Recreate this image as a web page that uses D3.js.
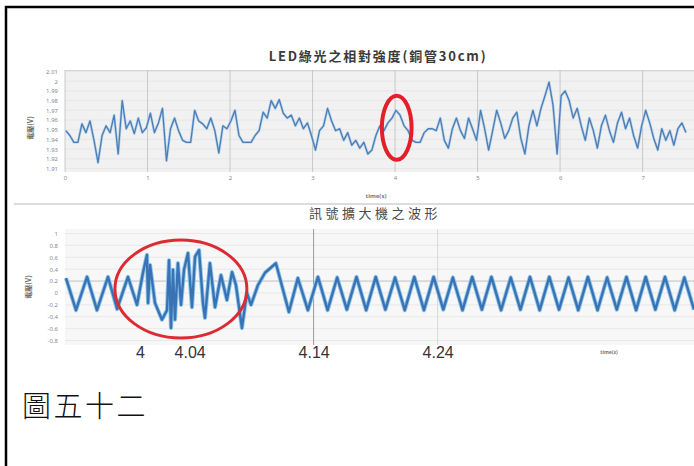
<!DOCTYPE html>
<html>
<head>
<meta charset="utf-8">
<script src="https://cdn.jsdelivr.net/npm/d3@7"></script>
<style>
  html, body { margin: 0; padding: 0; background: #fff; }
  svg { display: block; }
</style>
</head>
<body>
<div id="chart"></div>
<script>
// ---------------- DATA ----------------
const topTitle = "LED綠光之相對強度(銅管30cm)";
const bottomTitle = "訊號擴大機之波形";
const caption = "圖五十二";
const yAxisTitle = "電壓(V)";
const xAxisTitle = "time(s)";

// top chart: relative intensity, sampled uniformly
const topSampleStart = 0.01;
const topSampleStep = 0.0488;
const topValues = [
  1.949, 1.944, 1.937, 1.937, 1.956, 1.947, 1.959, 1.939, 1.916, 1.944,
  1.954, 1.947, 1.965, 1.925, 1.980, 1.951, 1.959, 1.946, 1.962, 1.947,
  1.952, 1.967, 1.947, 1.957, 1.972, 1.918, 1.951, 1.962, 1.949, 1.939,
  1.937, 1.937, 1.970, 1.959, 1.956, 1.951, 1.962, 1.949, 1.926, 1.954,
  1.951, 1.959, 1.970, 1.944, 1.937, 1.937, 1.937, 1.944, 1.949, 1.968,
  1.962, 1.980, 1.972, 1.981, 1.967, 1.962, 1.965, 1.954, 1.962, 1.951,
  1.957, 1.944, 1.929, 1.949, 1.954, 1.972, 1.959, 1.949, 1.951, 1.939,
  1.947, 1.934, 1.939, 1.931, 1.937, 1.925, 1.929, 1.944, 1.954, 1.949,
  1.957, 1.962, 1.970, 1.965, 1.954, 1.949, 1.939, 1.937, 1.937, 1.947,
  1.951, 1.951, 1.949, 1.962, 1.939, 1.931, 1.951, 1.962, 1.949, 1.941,
  1.962, 1.951, 1.939, 1.970, 1.951, 1.929, 1.949, 1.970, 1.957, 1.941,
  1.949, 1.962, 1.968, 1.941, 1.925, 1.954, 1.970, 1.954, 1.972, 1.985,
  1.999, 1.975, 1.925, 1.985, 1.990, 1.980, 1.962, 1.972, 1.954, 1.939,
  1.962, 1.949, 1.931, 1.954, 1.965, 1.949, 1.937, 1.957, 1.968, 1.951,
  1.962, 1.944, 1.931, 1.954, 1.970, 1.957, 1.941, 1.929, 1.951, 1.939,
  1.949, 1.934, 1.951, 1.957, 1.947
];
const topXTicks = [0, 1, 2, 3, 4, 5, 6, 7];
const topYTicks = [2.01, 2, 1.99, 1.98, 1.97, 1.96, 1.95, 1.94, 1.93, 1.92, 1.91];

// bottom chart: amplifier waveform
const bottomTimes = [
  3.9403, 3.9484, 3.9573, 3.9653, 3.9742, 3.9815, 3.9903, 3.9976, 4.0024, 4.0056,
  4.0065, 4.0081, 4.0121, 4.0177, 4.0218, 4.0234, 4.0250, 4.0266, 4.0282, 4.0306,
  4.0331, 4.0355, 4.0387, 4.0419, 4.0444, 4.0476, 4.0508, 4.0524, 4.0564, 4.0605,
  4.0653, 4.0701, 4.0742, 4.0774, 4.0822, 4.0862, 4.0895, 4.0951, 4.1008, 4.1096,
  4.1201, 4.1273, 4.1354,
  4.1435, 4.1513, 4.1590, 4.1668, 4.1746, 4.1824, 4.1901, 4.1979, 4.2057, 4.2135,
  4.2212, 4.2290, 4.2368, 4.2446, 4.2523, 4.2601, 4.2679, 4.2757, 4.2834, 4.2912,
  4.2990, 4.3068, 4.3145, 4.3223, 4.3301, 4.3379, 4.3456, 4.3534, 4.3612, 4.3690,
  4.3767, 4.3845, 4.3923, 4.4001, 4.4078, 4.4156, 4.4234, 4.4312, 4.4390, 4.4468
];
const bottomValues = [
  0.25, -0.29, 0.27, -0.29, 0.27, -0.27, 0.27, -0.20, 0.34, 0.64,
  -0.17, 0.47, -0.17, -0.45, -0.29, 0.55, -0.59, 0.39, -0.45, 0.50,
  -0.20, 0.39, 0.67, -0.24, 0.61, 0.72, -0.17, -0.42, 0.50, -0.24,
  0.30, -0.12, 0.35, 0.13, -0.59, 0.00, -0.20, 0.13, 0.34, 0.50,
  -0.32, 0.25, -0.29,
  0.27, -0.29, 0.26, -0.28, 0.27, -0.29, 0.27, -0.28, 0.26, -0.29,
  0.27, -0.29, 0.27, -0.28, 0.26, -0.29, 0.27, -0.28, 0.27, -0.29,
  0.26, -0.28, 0.27, -0.29, 0.27, -0.28, 0.26, -0.29, 0.27, -0.29,
  0.26, -0.28, 0.27, -0.29, 0.27, -0.28, 0.27, -0.29, 0.26, -0.28
];
const bottomXTicks = [4, 4.04, 4.14, 4.24];
const bottomYTicks = [1, 0.8, 0.6, 0.4, 0.2, 0, -0.2, -0.4, -0.6, -0.8];

// annotation ellipses (data coords: center t, center v, half-width s, half-height v)
const topHighlight = [4.02, 1.952, 0.18, 0.033];
const bottomHighlight = [4.033, 0.066, 0.0532, 0.824];

// ---------------- DRAW ----------------
const W = 694, H = 466;
const svg = d3.select("#chart").append("svg").attr("width", W).attr("height", H);

// outer frame (cut by the right and bottom edges)
svg.append("rect").attr("x", 6).attr("y", 7).attr("width", 720).attr("height", 500)
  .attr("fill", "none").attr("stroke", "#000").attr("stroke-width", 2.5);

// ===== top chart =====
const tx = d3.scaleLinear().domain([0, 7.55]).range([65, 688]);
const ty = d3.scaleLinear().domain([1.91, 2.01]).range([168.5, 71.5]);
const topData = topValues.map((v, i) => ({t: topSampleStart + i * topSampleStep, v}));

const gTop = svg.append("g");
gTop.append("rect").attr("x", 65).attr("y", 70).attr("width", W - 65).attr("height", 102)
  .attr("fill", "#f1f1f1");
gTop.append("line").attr("x1", 65).attr("x2", W).attr("y1", 70.5).attr("y2", 70.5)
  .attr("stroke", "#d6d6d6");
gTop.selectAll("line.hg").data(topYTicks).join("line").attr("class", "hg")
  .attr("x1", 65).attr("x2", W).attr("y1", d => ty(d)).attr("y2", d => ty(d))
  .attr("stroke", "#e4e4e4").attr("stroke-width", 0.8);
gTop.selectAll("line.vg").data(topXTicks).join("line").attr("class", "vg")
  .attr("x1", d => tx(d)).attr("x2", d => tx(d)).attr("y1", 70).attr("y2", 172)
  .attr("stroke", "#c4c4c4").attr("stroke-width", 0.9);

const yAxT = gTop.append("g").attr("transform", "translate(58,0)")
  .call(d3.axisLeft(ty).tickValues(topYTicks).tickSize(0).tickPadding(0)
    .tickFormat(d => String(+d.toFixed(2))));
yAxT.select(".domain").remove();
yAxT.selectAll("text").attr("font-family", "Noto Sans, sans-serif").attr("font-size", 6)
  .attr("fill", "#8a8a8a");

const xAxT = gTop.append("g").attr("transform", "translate(0,176)")
  .call(d3.axisBottom(tx).tickValues(topXTicks).tickSize(0).tickPadding(0).tickFormat(d3.format("d")));
xAxT.select(".domain").remove();
xAxT.selectAll("text").attr("font-family", "Noto Sans, sans-serif").attr("font-size", 6)
  .attr("fill", "#8a8a8a");

gTop.append("text").attr("x", 376).attr("y", 198).attr("text-anchor", "middle")
  .attr("font-family", "Noto Sans, sans-serif").attr("font-size", 6).attr("font-weight", "bold")
  .attr("fill", "#777").text(xAxisTitle);
gTop.append("text").attr("transform", "translate(33,128) rotate(-90)").attr("text-anchor", "middle")
  .attr("font-family", "Noto Sans CJK TC, sans-serif").attr("font-size", 7).attr("font-weight", "bold")
  .attr("fill", "#666").text(yAxisTitle);

gTop.append("text").attr("x", 378).attr("y", 61).attr("text-anchor", "middle")
  .attr("font-family", "Noto Sans CJK TC, sans-serif").attr("font-size", 13).attr("font-weight", "bold")
  .attr("letter-spacing", 1.8)
  .attr("fill", "#3a3a3a").text(topTitle);

const topLine = d3.line().x(d => tx(d.t)).y(d => ty(d.v));
gTop.append("path").datum(topData).attr("d", topLine).attr("fill", "none")
  .attr("stroke", "#b3d1ea").attr("stroke-width", 2.6).attr("stroke-linejoin", "round");
gTop.append("path").datum(topData).attr("d", topLine).attr("fill", "none")
  .attr("stroke", "#4d7db5").attr("stroke-width", 1.3).attr("stroke-linejoin", "round");

gTop.append("ellipse")
  .attr("cx", tx(topHighlight[0])).attr("cy", ty(topHighlight[1]))
  .attr("rx", tx(topHighlight[2]) - tx(0)).attr("ry", ty(0) - ty(topHighlight[3]))
  .attr("fill", "none").attr("stroke", "#e2202a").attr("stroke-width", 4);

// separator
svg.append("line").attr("x1", 14).attr("x2", W).attr("y1", 204).attr("y2", 204)
  .attr("stroke", "#dcdcdc").attr("stroke-width", 2);

// ===== bottom chart =====
const bx = d3.scaleLinear().domain([3.93952, 4.44355]).range([65, 690]);
const by = d3.scaleLinear().domain([-0.8, 1]).range([340.5, 233.5]);
const bottomData = bottomTimes.map((t, i) => ({t, v: bottomValues[i]}));

const gBot = svg.append("g");
gBot.append("rect").attr("x", 65).attr("y", 229).attr("width", W - 65).attr("height", 116)
  .attr("fill", "#f7f7f7");
gBot.selectAll("line.hg").data(bottomYTicks).join("line").attr("class", "hg")
  .attr("x1", 65).attr("x2", W).attr("y1", d => by(d)).attr("y2", d => by(d))
  .attr("stroke", d => d === 0.2 ? "#b9b9b9" : "#e6e6e6").attr("stroke-width", 0.9);
gBot.selectAll("line.vg").data(bottomXTicks.filter(d => d > 4.1)).join("line").attr("class", "vg")
  .attr("x1", d => bx(d)).attr("x2", d => bx(d)).attr("y1", 229).attr("y2", 345)
  .attr("stroke", (d, i) => i === 0 ? "#9a9a9a" : "#d8d8d8").attr("stroke-width", 1);

const yAxB = gBot.append("g").attr("transform", "translate(58,0)")
  .call(d3.axisLeft(by).tickValues(bottomYTicks).tickSize(0).tickPadding(0)
    .tickFormat(d => String(+d.toFixed(1))));
yAxB.select(".domain").remove();
yAxB.selectAll("text").attr("font-family", "Noto Sans, sans-serif").attr("font-size", 6)
  .attr("fill", "#8a8a8a");

gBot.append("text").attr("transform", "translate(31,287) rotate(-90)").attr("text-anchor", "middle")
  .attr("font-family", "Noto Sans CJK TC, sans-serif").attr("font-size", 7).attr("font-weight", "bold")
  .attr("fill", "#666").text(yAxisTitle);

gBot.append("text").attr("x", 375).attr("y", 218).attr("text-anchor", "middle")
  .attr("font-family", "Noto Sans CJK TC, sans-serif").attr("font-size", 13)
  .attr("letter-spacing", 3.5)
  .attr("fill", "#4a4a4a").text(bottomTitle);

const botLine = d3.line().x(d => bx(d.t)).y(d => by(d.v));
gBot.append("path").datum(bottomData).attr("d", botLine).attr("fill", "none")
  .attr("stroke", "#8fc7e6").attr("stroke-width", 4.2).attr("stroke-linejoin", "round");
gBot.append("path").datum(bottomData).attr("d", botLine).attr("fill", "none")
  .attr("stroke", "#3a72b6").attr("stroke-width", 2.4).attr("stroke-linejoin", "round");

gBot.append("ellipse")
  .attr("cx", bx(bottomHighlight[0])).attr("cy", by(bottomHighlight[1]))
  .attr("rx", bx(bottomHighlight[2]) - bx(0)).attr("ry", by(0) - by(bottomHighlight[3]))
  .attr("fill", "none").attr("stroke", "#dc2b32").attr("stroke-width", 3);

const xAxB = gBot.append("g").attr("transform", "translate(0,358)")
  .call(d3.axisBottom(bx).tickValues(bottomXTicks).tickSize(0).tickPadding(0)
    .tickFormat(d => String(d)));
xAxB.select(".domain").remove();
xAxB.selectAll("text").attr("dy", 0).attr("font-family", "Liberation Sans Narrow, Liberation Sans, sans-serif")
  .attr("font-size", 16).attr("fill", "#333");

gBot.append("text").attr("x", 609).attr("y", 354).attr("text-anchor", "middle")
  .attr("font-family", "Noto Sans, sans-serif").attr("font-size", 5).attr("font-weight", "bold")
  .attr("fill", "#777").text(xAxisTitle);

// caption
svg.append("text").attr("x", 22).attr("y", 417)
  .attr("font-family", "Noto Sans CJK TC, sans-serif").attr("font-size", 29).attr("font-weight", 300)
  .attr("letter-spacing", 2.5)
  .attr("fill", "#111").text(caption);
</script>
</body>
</html>
